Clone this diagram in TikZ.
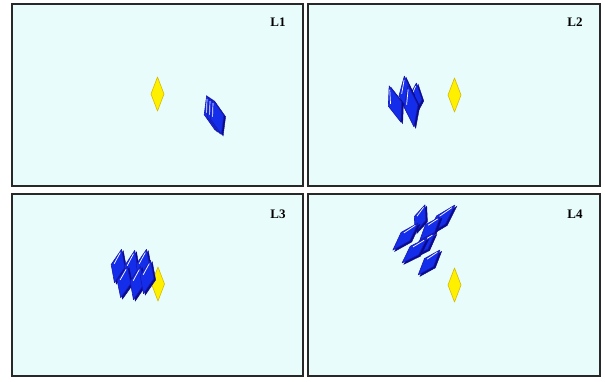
\documentclass[tikz,border=0pt]{standalone}
\usepackage{tikz}
\usepackage{fontspec}
\setmainfont{Liberation Serif}
\definecolor{panelbg}{RGB}{232,252,252}
\definecolor{panelline}{RGB}{40,40,40}
\definecolor{crysblue}{RGB}{20,45,235}
\definecolor{crysdark}{RGB}{10,10,140}
\definecolor{crysedge}{RGB}{25,25,170}
\definecolor{yfill}{RGB}{255,240,0}
\definecolor{yedge}{RGB}{215,185,0}
\tikzset{
  panel/.style={draw=panelline, line width=1.2pt, fill=panelbg},
  lbl/.style={font=\fontsize{13}{15}\selectfont\bfseries, inner sep=0pt},
  crysback/.style={fill=crysdark, draw=crysdark, line width=0.4pt},
  crysfront/.style={fill=crysblue, draw=crysedge, line width=0.6pt, line join=round},
  crysshine/.style={draw=white, line width=0.7pt},
  yellowgem/.style={fill=yfill, draw=yedge, line width=0.6pt, line join=round},
}
% crystal: cx, cy, rotation, length, width
\newcommand\crys[5]{%
  \begin{scope}[shift={(#1+1.8,#2+1.4)}, rotate=#3]
    \fill[crysback] (0,-#4/2) -- (#5/2,0) -- (0,#4/2) -- (-#5/2,0) -- cycle;
  \end{scope}
  \begin{scope}[shift={(#1,#2)}, rotate=#3]
    \draw[crysfront] (0,-#4/2) -- (#5/2,0) -- (0,#4/2) -- (-#5/2,0) -- cycle;
    \draw[crysshine] (-#5*0.30,-#4*0.04) -- (-#5*0.04,-#4*0.40);
  \end{scope}
}
\newcommand\ygem[2]{%
  \draw[yellowgem] (#1,#2-17) -- (#1+6.5,#2) -- (#1,#2+17) -- (#1-6.5,#2) -- cycle;
}
\begin{document}
\begin{tikzpicture}[x=1pt,y=-1pt]
\useasboundingbox (0,0) rectangle (605,381);
% panels
\draw[panel] (12,4) rectangle (303,186);
\draw[panel] (308,4) rectangle (600,186);
\draw[panel] (12,194) rectangle (303,376);
\draw[panel] (308,194) rectangle (600,376);
\node[lbl] (l1) at (278,22) {L1};
\node[lbl] (l2) at (575,22) {L2};
\node[lbl] (l3) at (278,214) {L3};
\node[lbl] (l4) at (575,214) {L4};
% panel 1
\ygem{157.5}{94}
\crys{211}{113}{14}{36}{14}
\crys{214}{115}{14}{36}{14}
\crys{217}{117}{14}{36}{14}
% panel 2
\ygem{454.5}{95}
\crys{415}{99}{-5}{32}{14}
\crys{406}{95}{5}{38}{14}
\crys{411}{106}{8}{42}{14}
\crys{395}{104}{18}{38}{14}
% panel 3
\ygem{158}{284}
\crys{118}{266}{-12}{34}{14}
\crys{131}{268}{-12}{36}{14}
\crys{143}{266}{-12}{34}{14}
\crys{124}{282}{-12}{32}{14}
\crys{137}{283}{-12}{34}{14}
\crys{147}{277}{-12}{34}{14}
% panel 4
\ygem{454.5}{285}
\crys{420}{218.5}{-20}{29}{12}
\crys{441}{220}{-43}{41}{12}
\crys{405.5}{236.5}{-43}{37}{12}
\crys{430}{228.5}{-41}{31}{12}
\crys{423.5}{245}{-44}{33}{12}
\crys{414.5}{250.5}{-45}{35}{12}
\crys{429}{262.5}{-41}{33}{12}
\end{tikzpicture}
\end{document}
